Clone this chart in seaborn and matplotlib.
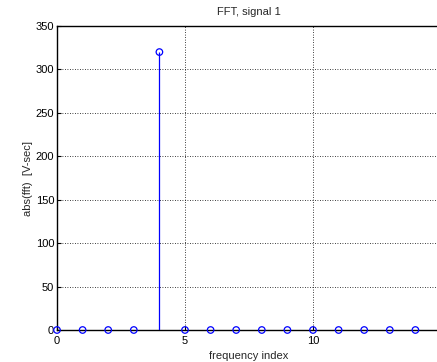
import matplotlib
matplotlib.use("Agg")
import matplotlib.pyplot as plt
import seaborn as sns
import numpy as np
import pandas as pd

# FFT magnitude of signal 1 over frequency index
freq_index = list(range(16))
fft_mag = [0, 0, 0, 0, 320, 0, 0, 0, 0, 0, 0, 0, 0, 0, 0, 0]
x_ticks = [0, 5, 10]
y_ticks = [0, 50, 100, 150, 200, 250, 300, 350]

sns.set_theme(style="white")
plt.rcParams["font.family"] = ["Liberation Sans", "DejaVu Sans"]
plt.rcParams["font.size"] = 8

df = pd.DataFrame({"k": freq_index, "mag": fft_mag})

fig = plt.figure(figsize=(4.37, 3.62), dpi=100)
ax = fig.add_axes([57 / 437, 1 - 330 / 362, 384 / 437, 304 / 362])

# stems
ax.vlines(df["k"], 0, df["mag"], colors="#0000ff", linewidth=0.9, zorder=3)
# markers
sns.scatterplot(data=df, x="k", y="mag", ax=ax, marker="o", s=22,
                facecolor="none", edgecolor="#0000ff", linewidth=0.9,
                zorder=4, clip_on=False, legend=False)

ax.set_xlim(0, 15)
ax.set_ylim(0, 350)
ax.set_xticks(x_ticks)
ax.set_yticks(y_ticks)
ax.grid(True, color="black", linestyle=(0, (1, 2)), linewidth=0.6)
ax.set_axisbelow(True)

for s in ax.spines.values():
    s.set_color("black")
    s.set_linewidth(1.0)

ax.tick_params(direction="in", length=3, width=0.8, colors="black",
               labelsize=8, bottom=True, left=True)
ax.tick_params(axis="x", pad=4)
ax.tick_params(axis="y", pad=2)

ax.set_title("FFT, signal 1", fontsize=8, pad=8)
ax.set_xlabel("frequency index", fontsize=8, labelpad=4)
ax.set_ylabel("abs(fft)  [V-sec]", fontsize=8, labelpad=2)

fig.savefig("out.png", dpi=100)
